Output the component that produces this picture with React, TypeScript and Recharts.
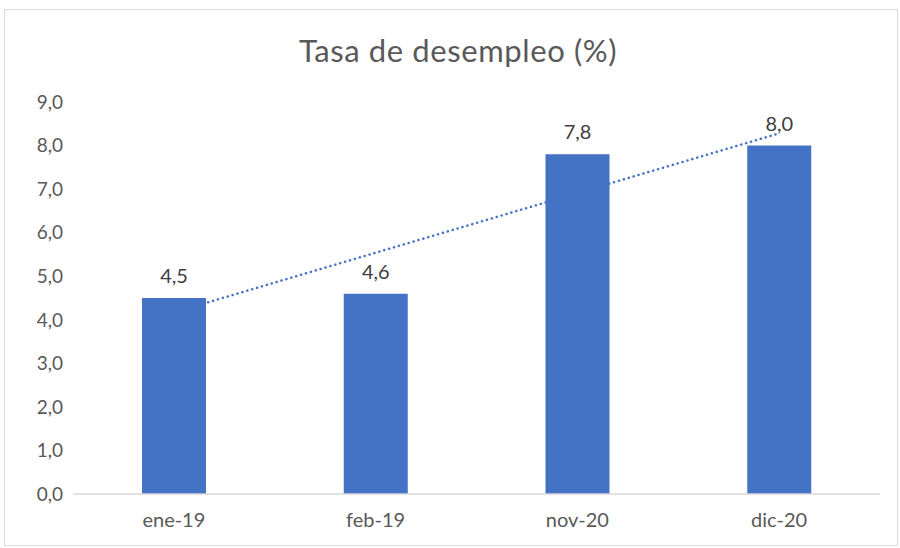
import React from "react";
import { ComposedChart, Bar, Line, XAxis, YAxis, LabelList } from "recharts";

const categories = ["ene-19", "feb-19", "nov-20", "dic-20"];
const rateValues = [4.5, 4.6, 7.8, 8.0];
const trendValues = [4.17, 5.54, 6.91, 8.28];
const yTicks = [0, 1, 2, 3, 4, 5, 6, 7, 8, 9];

const data = categories.map((c, i) => ({ cat: c, rate: rateValues[i], trend: trendValues[i] }));

const fmt = (v: number) => v.toFixed(1).replace(".", ",");
const FONT = "Lato, 'Open Sans', sans-serif";

export default function App() {
  return (
    <div style={{ position: "absolute", left: 0, top: 0, width: 900, height: 548, background: "#fff", fontFamily: FONT }}>
      <div style={{ position: "absolute", left: 4, top: 9, width: 892, height: 535, border: "1px solid #d9d9d9" }} />
      <div style={{ position: "absolute", left: 0, top: 31, width: 916, textAlign: "center", fontSize: 31, color: "#595959", letterSpacing: 0.6 }}>
        Tasa de desempleo (%)
      </div>
      <div style={{ position: "absolute", left: 0, top: 0 }}>
        <ComposedChart width={900} height={548} data={data} margin={{ top: 102, right: 20, bottom: 0, left: 0 }}>
          <XAxis
            dataKey="cat"
            axisLine={{ stroke: "#d9d9d9", strokeWidth: 1.5 }}
            tickLine={false}
            tickSize={0}
            tickMargin={19}
            height={54}
            tick={{ fill: "#595959", fontSize: 20, fontFamily: FONT }}
          />
          <YAxis
            domain={[0, 9]}
            ticks={yTicks}
            interval={0}
            axisLine={false}
            tickLine={false}
            tickSize={0}
            tickMargin={10}
            width={73}
            tickFormatter={fmt}
            tick={{ fill: "#595959", fontSize: 19, fontFamily: FONT }}
          />
          <Line
            dataKey="trend"
            type="linear"
            stroke="#4472C4"
            strokeWidth={2.5}
            strokeDasharray="0.1 5"
            strokeLinecap="round"
            dot={false}
            activeDot={false}
            isAnimationActive={false}
          />
          <Bar dataKey="rate" fill="#4472C4" barSize={64} isAnimationActive={false}>
            <LabelList
              dataKey="rate"
              position="top"
              offset={15}
              formatter={(v: number) => fmt(v)}
              style={{ fill: "#404040", fontSize: 20, fontFamily: FONT }}
            />
          </Bar>
        </ComposedChart>
      </div>
    </div>
  );
}
